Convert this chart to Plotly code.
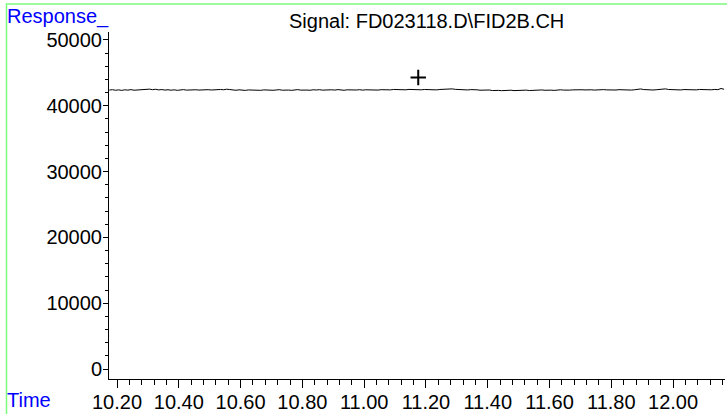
import plotly.graph_objects as go

# ---- data ----
t_start = 10.175
t_step = 0.01
response = [
    # 10.175 - 10.265
    42380, 42440, 42350, 42410, 42330, 42420, 42370, 42450, 42360, 42400,
    # 10.275 - 10.365
    42430, 42380, 42470, 42520, 42440, 42500, 42410, 42460, 42380, 42430,
    # 10.375 - 10.465
    42360, 42420, 42340, 42400, 42450, 42370, 42410, 42350, 42430, 42380,
    # 10.475 - 10.565
    42420, 42360, 42440, 42390, 42450, 42400, 42470, 42430, 42510, 42460,
    # 10.575 - 10.665
    42400, 42350, 42420, 42370, 42330, 42400, 42360, 42430, 42380, 42340,
    # 10.675 - 10.765
    42410, 42370, 42430, 42350, 42390, 42440, 42360, 42410, 42380, 42340,
    # 10.775 - 10.865
    42400, 42450, 42370, 42420, 42380, 42350, 42430, 42390, 42440, 42370,
    # 10.875 - 10.965
    42410, 42360, 42420, 42380, 42450, 42400, 42350, 42420, 42380, 42430,
    # 10.975 - 11.065
    42390, 42440, 42370, 42420, 42400, 42460, 42410, 42380, 42440, 42400,
    # 11.075 - 11.165
    42450, 42410, 42470, 42430, 42390, 42450, 42420, 42480, 42440, 42400,
    # 11.175 - 11.265
    42460, 42420, 42470, 42440, 42490, 42450, 42410, 42470, 42500, 42540,
    # 11.275 - 11.365
    42640, 42560, 42490, 42450, 42500, 42440, 42400, 42450, 42380, 42420,
    # 11.375 - 11.465
    42360, 42400, 42340, 42390, 42310, 42370, 42330, 42290, 42350, 42310,
    # 11.475 - 11.565
    42360, 42300, 42340, 42280, 42330, 42370, 42310, 42350, 42300, 42360,
    # 11.575 - 11.665
    42400, 42350, 42410, 42370, 42330, 42390, 42420, 42380, 42430, 42370,
    # 11.675 - 11.765
    42410, 42450, 42390, 42430, 42400, 42460, 42420, 42380, 42440, 42400,
    # 11.775 - 11.865
    42450, 42410, 42380, 42430, 42390, 42440, 42400, 42360, 42420, 42380,
    # 11.875 - 11.965
    42430, 42470, 42550, 42460, 42410, 42440, 42390, 42430, 42480, 42420,
    # 11.975 - 12.065
    42560, 42470, 42430, 42480, 42440, 42400, 42460, 42420, 42490, 42450,
    # 12.075 - 12.165
    42410, 42470, 42430, 42500, 42450, 42420, 42480, 42440, 42620, 42500,
]
times = [round(t_start + t_step * i, 3) for i in range(len(response))]

peak_time = [11.175]
peak_resp = [44300]

x_ticks = [10.2, 10.4, 10.6, 10.8, 11.0, 11.2, 11.4, 11.6, 11.8, 12.0]
x_tick_labels = ["10.20", "10.40", "10.60", "10.80", "11.00", "11.20", "11.40", "11.60", "11.80", "12.00"]
y_ticks = [0, 10000, 20000, 30000, 40000, 50000]
y_tick_labels = ["0", "10000", "20000", "30000", "40000", "50000"]

title_text = "Signal: FD023118.D\\FID2B.CH"

# ---- figure ----
W, H = 727, 414
ML, MR, MT, MB = 109, 2, 32, 35
PW = W - ML - MR
PH = H - MT - MB

def px(x):
    return (x - ML) / PW

def py(y):
    return (H - MB - y) / PH

FONT = "Arial, Liberation Sans, sans-serif"

fig = go.Figure()
fig.add_trace(go.Scatter(x=times, y=response, mode="lines",
                         line=dict(color="black", width=1), hoverinfo="skip"))
fig.add_trace(go.Scatter(x=peak_time, y=peak_resp, mode="markers",
                         marker=dict(symbol="cross-thin", size=11,
                                     line=dict(color="black", width=2)),
                         hoverinfo="skip"))

fig.update_layout(
    width=W, height=H,
    margin=dict(l=ML, r=MR, t=MT, b=MB),
    paper_bgcolor="white", plot_bgcolor="white",
    showlegend=False,
    font=dict(family=FONT, size=20, color="black"),
    xaxis=dict(
        range=[10.174, 12.168], automargin=False,
        tickmode="array", tickvals=x_ticks, ticktext=x_tick_labels,
        ticks="outside", ticklen=8, tickwidth=1, tickcolor="black",
        showline=True, linecolor="black", linewidth=1,
        showgrid=False, zeroline=False,
        ticklabelstandoff=-3,
        tickfont=dict(family=FONT, size=20, color="black"),
        minor=dict(ticks="outside", ticklen=5, tickwidth=1, tickcolor="black",
                   dtick=0.04, tick0=10.2, showgrid=False),
    ),
    yaxis=dict(
        range=[-1500, 51200], automargin=False,
        tickmode="array", tickvals=y_ticks, ticktext=y_tick_labels,
        ticks="outside", ticklen=5, tickwidth=1, tickcolor="black",
        showline=True, linecolor="black", linewidth=1,
        showgrid=False, zeroline=False,
        ticklabelstandoff=-3,
        tickfont=dict(family=FONT, size=20, color="black"),
        minor=dict(ticks="outside", ticklen=3, tickwidth=1, tickcolor="black",
                   dtick=2000, tick0=0, showgrid=False),
    ),
    shapes=[
        dict(type="rect", xref="paper", yref="paper",
             x0=px(6.5), x1=px(740), y0=py(430), y1=py(4),
             line=dict(color="#7CFC7C", width=1.5), fillcolor="rgba(0,0,0,0)",
             layer="below"),
    ],
    annotations=[
        dict(text=title_text, xref="paper", yref="paper",
             x=px(426.5), y=py(21), xanchor="center", yanchor="middle",
             showarrow=False, font=dict(family=FONT, size=20, color="black")),
        dict(text="Response_", xref="paper", yref="paper",
             x=px(5), y=py(16), xanchor="left", yanchor="middle",
             showarrow=False, font=dict(family=FONT, size=20, color="blue")),
        dict(text="Time", xref="paper", yref="paper",
             x=px(5), y=py(400), xanchor="left", yanchor="middle",
             showarrow=False, font=dict(family=FONT, size=20, color="blue")),
    ],
)

fig.write_html("out.html",
               config={"displayModeBar": False, "staticPlot": True},
               post_script="document.body.style.margin='0';document.body.style.padding='0';")
